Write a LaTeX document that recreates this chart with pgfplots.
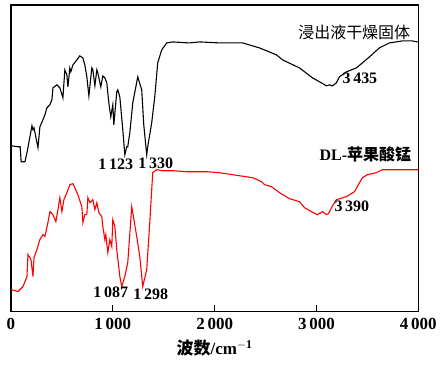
\documentclass[border=0pt]{standalone}
\usepackage{fontspec}
\setmainfont{Liberation Serif}
\newfontfamily\cjk{Noto Sans CJK SC}
\usepackage{pgfplots}
\pgfplotsset{compat=1.18}
\begin{document}
\begin{tikzpicture}
\begin{axis}[
  scale only axis, width=408pt, height=307pt,
  xmin=0, xmax=4000, ymin=-312, ymax=-5,
  xtick={0,1000,2000,3000,4000},
  xticklabels={0,1\,000,2\,000,3\,000,4\,000},
  xtick pos=lower, tick align=inside, major tick length=6pt,
  ytick=\empty,
  axis line style={line width=1.3pt},
  every tick/.style={line width=1.2pt, black},
  tick label style={font=\fontsize{17}{20}\selectfont\bfseries},
  xticklabel style={yshift=-3pt},
  xlabel={{\cjk\bfseries 波数}\textbf{/cm}$^{\mathbf{-1}}$},
  xlabel style={font=\fontsize{17}{20}\selectfont, yshift=-4pt},
  clip=false,
]
\addplot[black, line width=1.1pt] coordinates {
(0,-146) (69,-147) (90,-147) (98,-159) (100,-162) (137,-162) (157,-153) (206,-126) (216,-130) (226,-128) (265,-148) (284,-127) (314,-120) (333,-115) (353,-108) (382,-105) (402,-100) (412,-88) (451,-85) (480,-88) (510,-98) (529,-70) (549,-75) (559,-87) (578,-68) (588,-72) (608,-65) (647,-60) (676,-56) (706,-58) (725,-65) (745,-77) (765,-96) (794,-68) (804,-70) (824,-86) (843,-70) (853,-73) (882,-87) (902,-76) (922,-78) (941,-83) (961,-103) (980,-117) (1000,-105) (1010,-125) (1039,-92) (1049,-90) (1069,-97) (1098,-130) (1118,-155) (1137,-147) (1147,-147) (1167,-133) (1196,-103) (1245,-77) (1284,-90) (1304,-125) (1333,-155) (1343,-147) (1382,-123) (1412,-97) (1441,-63) (1480,-50) (1529,-43) (1588,-42) (1750,-43) (1853,-42) (2049,-43) (2275,-43) (2441,-48) (2608,-55) (2667,-60) (2833,-68) (2961,-78) (3049,-83) (3098,-86) (3127,-85) (3157,-86) (3196,-83) (3225,-77) (3294,-72) (3392,-68) (3451,-63) (3520,-57) (3618,-48) (3716,-43) (3843,-41) (3941,-41) (3990,-42) (4000,-42)
};
\addplot[red, line width=1.1pt] coordinates {
(0,-290) (69,-292) (118,-287) (157,-277) (167,-255) (196,-260) (216,-277) (226,-258) (255,-250) (284,-240) (314,-235) (333,-237) (363,-223) (382,-212) (412,-215) (441,-222) (461,-210) (480,-198) (500,-212) (520,-200) (549,-193) (578,-185) (608,-184) (627,-188) (657,-195) (696,-207) (706,-223) (725,-215) (745,-215) (755,-198) (775,-203) (804,-200) (824,-210) (843,-203) (863,-213) (892,-217) (902,-227) (922,-240) (931,-235) (951,-253) (971,-240) (990,-247) (1000,-220) (1020,-227) (1039,-250) (1069,-277) (1088,-287) (1118,-277) (1147,-263) (1186,-207) (1196,-213) (1235,-237) (1265,-257) (1294,-287) (1333,-270) (1363,-223) (1392,-173) (1431,-170) (1490,-171) (1588,-171) (1725,-172) (1922,-172) (2049,-173) (2176,-175) (2373,-178) (2461,-182) (2490,-185) (2559,-187) (2637,-193) (2735,-199) (2833,-202) (2882,-208) (2951,-212) (3010,-215) (3059,-212) (3098,-215) (3118,-214) (3147,-208) (3196,-200) (3294,-197) (3373,-192) (3451,-178) (3500,-175) (3588,-173) (3647,-170) (3745,-170) (3990,-170) (4000,-170)
};
\begin{scope}[every node/.style={font=\fontsize{16}{18}\selectfont\bfseries, inner sep=0pt}]
\node[anchor=east] at (axis cs:3922,-32) {\cjk\mdseries 浸出液干燥固体};
\node[anchor=west] at (axis cs:3255,-78) {3\,435};
\node at (axis cs:1029,-165) {1\,123};
\node at (axis cs:1422,-164) {1\,330};
\node[anchor=east] at (axis cs:3931,-155) {DL-{\cjk 苹果酸锰}};
\node[anchor=west] at (axis cs:3176,-207) {3\,390};
\node at (axis cs:980,-293) {1\,087};
\node at (axis cs:1373,-295) {1\,298};
\end{scope}
\path (rel axis cs:0,0) ++(-11pt,-53pt) (rel axis cs:1,1) ++(21pt,5pt);
\end{axis}
\end{tikzpicture}
\end{document}
